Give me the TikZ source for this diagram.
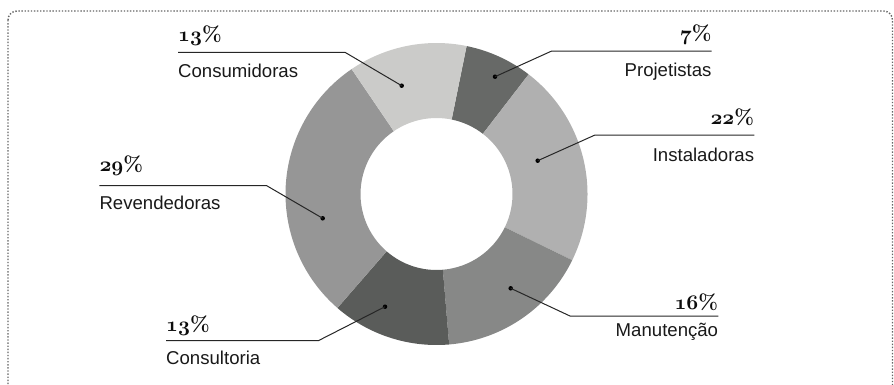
\documentclass[tikz,border=0pt]{standalone}
\usepackage{fontspec}
\usepackage{tikz}
\newfontfamily\namefont{Liberation Sans}
\newcommand{\pctnum}[1]{{\boldmath$\mathnormal{#1}$}\bfseries\%}
\definecolor{consumgray}{HTML}{CBCBC9}
\definecolor{projgray}{HTML}{676967}
\definecolor{instgray}{HTML}{B0B0B0}
\definecolor{manutgray}{HTML}{878887}
\definecolor{consulgray}{HTML}{5A5C5A}
\definecolor{revendgray}{HTML}{969696}
\tikzset{
  /tikz/.cd,
  pct/.style={inner sep=0pt,font=\fontsize{21}{23}\selectfont,text=black!95},
  sector/.style={font=\fontsize{18.6}{20}\namefont,inner sep=0pt,text=black!90},
  leader/.style={line width=1pt,black!85},
  pin/.style={circle,fill=black,inner sep=0pt,minimum size=4.5pt}
}

\begin{document}
\begin{tikzpicture}[x=1pt,y=-1pt,
                    frame/.style={line width=1.4pt,black!60,dash pattern=on 1.4pt off 1.7pt}]
      \useasboundingbox (0,0) rectangle (894,384);
      \draw[frame,rounded corners=9pt] (8,11) rectangle (892.5,420);

      \begin{scope}[shift={(436.5,194)}]
        \fill[projgray]   (-78.5:151) arc[start angle=-78.5,end angle=-52.4,radius=151] -- (-52.4:76) arc[start angle=-52.4,end angle=-78.5,radius=76] -- cycle;
        \fill[instgray]   (-52.4:151) arc[start angle=-52.4,end angle=26,radius=151] -- (26:76) arc[start angle=26,end angle=-52.4,radius=76] -- cycle;
        \fill[manutgray]  (26:151) arc[start angle=26,end angle=85.2,radius=151] -- (85.2:76) arc[start angle=85.2,end angle=26,radius=76] -- cycle;
        \fill[consulgray] (85.2:151) arc[start angle=85.2,end angle=131,radius=151] -- (131:76) arc[start angle=131,end angle=85.2,radius=76] -- cycle;
        \fill[revendgray] (131:151) arc[start angle=131,end angle=235.8,radius=151] -- (235.8:76) arc[start angle=235.8,end angle=131,radius=76] -- cycle;
        \fill[consumgray] (235.8:151) arc[start angle=235.8,end angle=281.5,radius=151] -- (281.5:76) arc[start angle=281.5,end angle=235.8,radius=76] -- cycle;
      \end{scope}

      % left side
      \node[pct,anchor=base west] (consumPct) at (178,41) {\pctnum{13}};
      \node[sector,anchor=base west] (consumName) at (178,77) {Consumidoras};
      \node[pin] (consumPin) at (401.7,85.7) {};
      \coordinate (consumEnd) at (178,52.3);
      \coordinate (consumBend) at (345,52.3);

      \node[pct,anchor=base west] (revendPct) at (99.3,171.5) {\pctnum{29}};
      \node[sector,anchor=base west] (revendName) at (99.3,209) {Revendedoras};
      \node[pin] (revendPin) at (322.7,218.3) {};
      \coordinate (revendEnd) at (99.3,185.7);
      \coordinate (revendBend) at (266.7,185.7);

      \node[pct,anchor=base west] (consulPct) at (166,331.5) {\pctnum{13}};
      \node[sector,anchor=base west] (consulName) at (166,364) {Consultoria};
      \node[pin] (consulPin) at (385,306.7) {};
      \coordinate (consulEnd) at (166,340.7);
      \coordinate (consulBend) at (318.3,340.7);

      % right side
      \node[pct,anchor=base east] (projPct) at (711.7,40) {\pctnum{7}};
      \node[sector,anchor=base east] (projName) at (711.7,76) {Projetistas};
      \node[pin] (projPin) at (495,76.7) {};
      \coordinate (projEnd) at (711.7,51);
      \coordinate (projBend) at (551.7,51);

      \node[pct,anchor=base east] (instPct) at (754.3,124) {\pctnum{22}};
      \node[sector,anchor=base east] (instName) at (754.3,161.7) {Instaladoras};
      \node[pin] (instPin) at (537.7,160.7) {};
      \coordinate (instEnd) at (754.3,135);
      \coordinate (instBend) at (595,135);

      \node[pct,anchor=base east] (manutPct) at (718.3,309.3) {\pctnum{16}};
      \node[sector,anchor=base east] (manutName) at (718.3,336.7) {Manutenção};
      \node[pin] (manutPin) at (510.7,288.3) {};
      \coordinate (manutEnd) at (718.3,316);
      \coordinate (manutBend) at (570,316);

      \draw[leader] (consumEnd) -- (consumBend) -- (consumPin.center);
      \draw[leader] (revendEnd) -- (revendBend) -- (revendPin.center);
      \draw[leader] (consulEnd) -- (consulBend) -- (consulPin.center);
      \draw[leader] (projEnd) -- (projBend) -- (projPin.center);
      \draw[leader] (instEnd) -- (instBend) -- (instPin.center);
      \draw[leader] (manutEnd) -- (manutBend) -- (manutPin.center);
    \end{tikzpicture}
\end{document}
